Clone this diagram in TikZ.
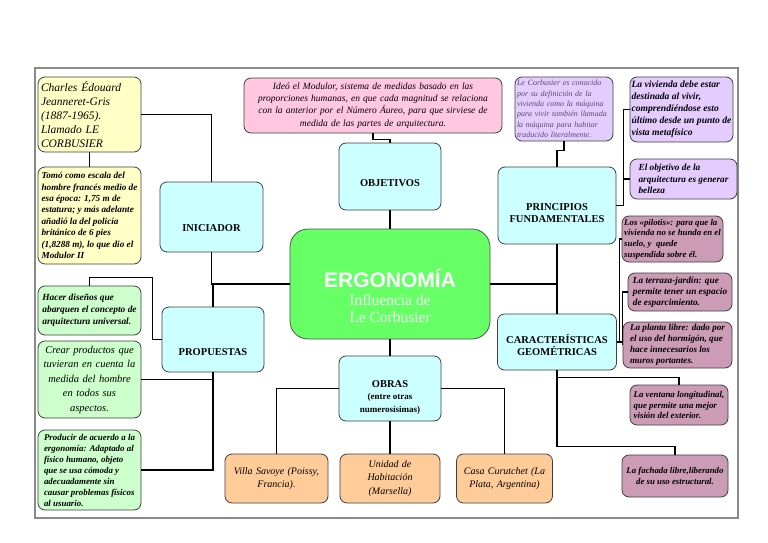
\documentclass[tikz,border=0pt]{standalone}
\usepackage{fontspec}
\setmainfont{Liberation Serif}
\newfontfamily\titlesans{Liberation Sans}
\usepackage{tikz}
\usetikzlibrary{
  positioning,
  calc
}
\usepackage{xcolor}
\definecolor{boxedge}{HTML}{3F3F3F}
\definecolor{framegray}{HTML}{8A8A8A}
\definecolor{paleyellow}{HTML}{FFFFC6}
\definecolor{mintgreen}{HTML}{CCFFCC}
\definecolor{palecyan}{HTML}{CCFFFF}
\definecolor{hubgreen}{HTML}{66FF66}
\definecolor{hubtext}{HTML}{F0FFF0}
\definecolor{blush}{HTML}{FFC8E0}
\definecolor{lilac}{HTML}{E5CCFF}
\definecolor{lilactext}{HTML}{5A4A6E}
\definecolor{mauve}{HTML}{CC9CB6}
\definecolor{peach}{HTML}{FFCC99}
\tikzset{
  card/.style={
    rectangle, draw=boxedge, fill=#1, rounded corners=7pt,
    line width=0.8pt, inner sep=2pt, text=black
  },
  card/.default=palecyan,
  heading/.style={
    card=palecyan, align=center,
    font=\fontsize{10.5}{12.5}\selectfont\bfseries
  },
  note/.style={
    card=#1, align=left,
    font=\fontsize{9}{11}\selectfont\itshape
  },
  note/.default=mauve,
  boldnote/.style={
    note=#1, inner sep=1.5pt, font=\fontsize{9.2}{11}\selectfont\bfseries\itshape
  },
  boldnote/.default=mauve,
  wire/.style={line width=1.2pt, black},
}

\begin{document}
\begin{tikzpicture}[x=1pt, y=-1pt]

\useasboundingbox (0,0) rectangle (768,543);
\draw[framegray, line width=1.3pt] (35,68) rectangle (738,518);

% Centre
\node[card=hubgreen, draw=boxedge!90, rounded corners=18pt, minimum width=200pt, minimum height=110pt,
  align=center, text=hubtext, text height=78pt, font=\fontsize{15.5}{17.5}\selectfont] (ergo) at (390,284)
  {{\titlesans\bfseries\fontsize{21}{17.5}\selectfont\color{white}ERGONOMÍA}\\Influencia de\\Le Corbusier};

% Headings
\node[heading, minimum width=103pt, minimum height=70pt, text height=29pt] (iniciador) at (211.5,217) {INICIADOR};
\node[heading, minimum width=102pt, minimum height=65pt, text height=33pt] (propuestas) at (213,339.5) {PROPUESTAS};
\node[heading, minimum width=102pt, minimum height=67pt, text height=20pt] (objetivos) at (390,176.5) {OBJETIVOS};
\node[heading, minimum width=102pt, minimum height=65pt, text height=49pt] (obras) at (390,388.5)
  {OBRAS\\{\fontsize{9}{13}\selectfont (entre otras}\\{\fontsize{9}{13}\selectfont numerosísimas)}};
\node[heading, minimum width=118pt, minimum height=77pt, text height=35pt] (principios) at (557,205.5) {PRINCIPIOS\\FUNDAMENTALES};
\node[heading, minimum width=119pt, minimum height=56pt, text height=28pt] (caract) at (557,342) {CARACTERÍSTICAS\\GEOMÉTRICAS};

% Left column
\node[note=paleyellow, minimum width=103pt, minimum height=75pt, text width=97pt,
  font=\fontsize{11.5}{14}\selectfont\itshape] (charles) at (89.5,114.5)
  {Charles Édouard\\Jeanneret-Gris\\(1887-1965).\\Llamado LE\\CORBUSIER};
\node[boldnote=paleyellow, minimum width=103pt, minimum height=97pt,
  font=\fontsize{9.2}{11.4}\selectfont\bfseries\itshape] (tomo) at (89.5,215.5)
  {Tomó como escala del\\hombre francés medio de\\esa época: 1,75 m de\\estatura; y más adelante\\añadió la del policía\\británico de 6 pies\\(1,8288 m), lo que dio el\\Modulor II};
\node[boldnote=mintgreen, minimum width=103pt, minimum height=49pt,
  font=\fontsize{9.4}{12}\selectfont\bfseries\itshape] (hacer) at (89.5,310.5)
  {Hacer diseños que\hspace{20pt}\\abarquen el concepto de\\arquitectura universal.};
\node[note=mintgreen, minimum width=103pt, minimum height=77pt, text width=99pt, align=center,
  font=\fontsize{10.5}{14.5}\selectfont\itshape] (crear) at (89.5,379.5)
  {Crear productos que\\tuvieran en cuenta la\\medida del hombre\\en todos sus\\aspectos.};
\node[boldnote=mintgreen, minimum width=103pt, minimum height=80pt,
  font=\fontsize{8.9}{11}\selectfont\bfseries\itshape] (producir) at (89.5,470)
  {Producir de acuerdo a la\\ergonomía: Adaptado al\\físico humano, objeto\\que se usa cómoda y\\adecuadamente sin\\causar problemas físicos\\al usuario.};

% Top
\node[note=blush, minimum width=258pt, minimum height=55pt, text width=250pt, align=center,
  font=\fontsize{9.5}{12.3}\selectfont\itshape] (modulor) at (373,105.5)
  {Ideó el Modulor, sistema de medidas basado en las\\proporciones humanas, en que cada magnitud se relaciona\\con la anterior por el Número Áureo, para que sirviese de\\medida de las partes de arquitectura.};

% Works
\node[note=peach, minimum width=103pt, minimum height=49pt, text width=99pt, align=center,
  font=\fontsize{10}{13.5}\selectfont\itshape] (villa) at (276.5,478.5) {Villa Savoye (Poissy,\\Francia).};
\node[note=peach, minimum width=100pt, minimum height=49pt, text width=96pt, align=center,
  font=\fontsize{10}{13.5}\selectfont\itshape] (unidad) at (390,478.5) {Unidad de\\Habitación\\(Marsella)};
\node[note=peach, minimum width=95pt, minimum height=49pt, text width=92pt, align=center,
  font=\fontsize{10}{13.5}\selectfont\itshape] (casa) at (504.5,478.5) {Casa Curutchet (La\\Plata, Argentina)};

% Right column
\node[note=lilac, minimum width=98pt, minimum height=64pt, text width=94pt, text=lilactext,
  font=\fontsize{8}{10.4}\selectfont\itshape] (lecorb) at (564,109)
  {Le Corbusier es conocido\\por su definición de la\\vivienda como la máquina\\para vivir también llamada\\la máquina para habitar\\traducido literalmente.};
\node[boldnote=lilac, minimum width=103pt, minimum height=65pt,
  font=\fontsize{9.6}{12}\selectfont\bfseries\itshape] (vivienda) at (681.5,109.5)
  {La vivienda debe estar\\destinada al vivir,\\comprendiéndose esto\\último desde un punto de\\vista metafísico};
\node[boldnote=lilac, minimum width=107pt, minimum height=40pt,
  font=\fontsize{9.3}{11.3}\selectfont\bfseries\itshape] (belleza) at (683.5,179)
  {El objetivo de la\hspace{22pt}\\arquitectura es generar\\belleza};
\node[boldnote, minimum width=101pt, minimum height=46pt,
  font=\fontsize{8.8}{10.6}\selectfont\bfseries\itshape] (pilotis) at (672.5,239)
  {Los «pilotis»: para que la\\vivienda no se hunda en el\\suelo, y\ \ quede\\suspendida sobre él.};
\node[boldnote, minimum width=104pt, minimum height=38pt, font=\fontsize{9.3}{10.8}\selectfont\bfseries\itshape] (terraza) at (680,292)
  {La terraza-jardín: que\\permite tener un espacio\\de esparcimiento.};
\node[boldnote, minimum width=109pt, minimum height=46pt, font=\fontsize{9.1}{10.8}\selectfont\bfseries\itshape] (planta) at (677.5,345)
  {La planta libre: dado por\\el uso del hormigón, que\\hace innecesarios los\\muros portantes.};
\node[boldnote, minimum width=98pt, minimum height=40pt, font=\fontsize{8.9}{10.8}\selectfont\bfseries\itshape] (ventana) at (679,405)
  {La ventana longitudinal,\\que permite una mejor\\visión del exterior.};
\node[boldnote, minimum width=106pt, minimum height=42pt, align=center, font=\fontsize{8.8}{11.5}\selectfont\bfseries\itshape] (fachada) at (675,476)
  {La fachada libre,liberando\\de su uso estructural.};

% Left connectors
\draw[wire] (charles.east) -| (iniciador.north);
\draw[wire] (charles.south) -- (tomo.north);
\draw[wire] (iniciador.south) |- (ergo.west);
\draw[wire] (propuestas.north) -- (propuestas.north |- ergo.west);
\coordinate (hacertop) at ($(hacer.north)+(0,-8)$);
\draw[wire] (propuestas.west) -- ++(-9,0) |- (hacertop) -- (hacer.north);
\draw[wire] (propuestas.south) |- (producir.east);
\draw[wire] (crear.east) -- (crear.east -| propuestas.south);

% Top and bottom connectors
\coordinate (modjog) at ($(modulor.south)+(0,6)$);
\draw[wire] (modulor.south) -- (modjog) -| (objetivos.north);
\draw[wire] (objetivos.south) -- (ergo.north);
\draw[wire] (ergo.south) -- (obras.north);
\draw[wire] (obras.west) -| (villa.north);
\draw[wire] (obras.east) -| (casa.north);
\draw[wire] (obras.south) -- (unidad.north);

% Right connectors
\draw[wire] (ergo.east) -- (ergo.east -| principios.south);
\draw[wire] (principios.south) -- (caract.north);
\coordinate (lecjog) at ($(lecorb.south)+(0,9)$);
\draw[wire] (lecorb.south) -- (lecjog) -| (principios.north);
\coordinate (prinbus) at ($(principios.east)+(7,0)$);
\draw[wire] (principios.east) -- (prinbus) |- (vivienda.west);
\draw[wire] (belleza.west) -- (belleza.west -| prinbus);
\coordinate (caracbus) at ($(caract.east)+(2.5,0)$);
\draw[wire] (caract.east) -- (caract.east -| planta.west);
\draw[wire] (caracbus) |- (pilotis.west);
\draw[wire] (terraza.west) -- ++(-5,0) |- (planta.west);
\coordinate (ventbus) at ($(ventana.north)+(0,-7)$);
\coordinate (fachbus) at ($(fachada.north)+(0,-8)$);
\draw[wire] (caract.south) |- (fachbus) -- (fachada.north);
\draw[wire] (caract.south |- ventbus) -- (ventbus) -- (ventana.north);

\end{tikzpicture}
\end{document}
